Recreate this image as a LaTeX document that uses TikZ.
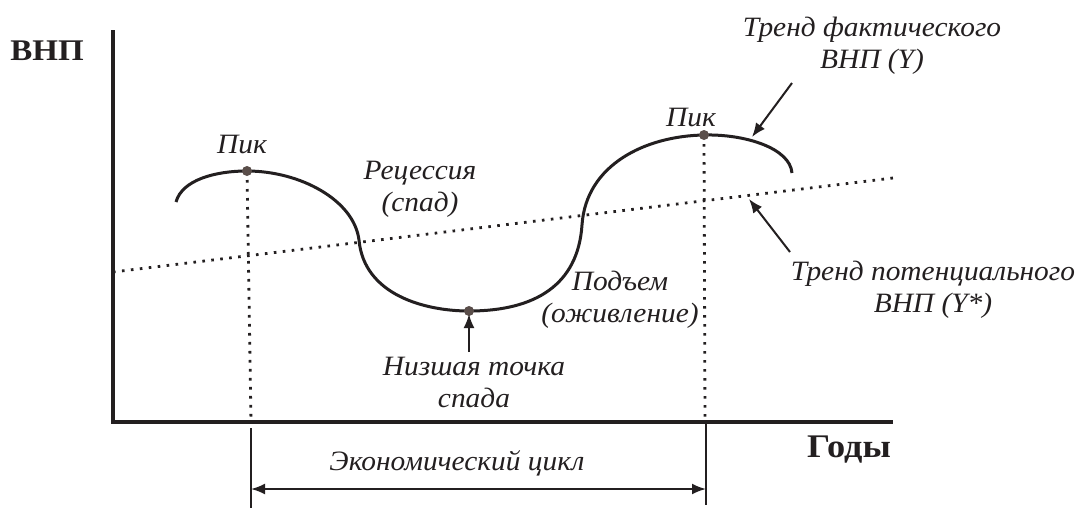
\documentclass[tikz,border=0pt]{standalone}
\usepackage{fontspec}
\setmainfont{Liberation Serif}
\newfontfamily\lblfont[FakeStretch=1.05]{Liberation Serif}
\newfontfamily\boldfont[FakeStretch=1.1]{Liberation Serif}
\usetikzlibrary{arrows.meta}
\definecolor{ink}{HTML}{231F20}
\definecolor{dotc}{HTML}{5A4E4A}
\tikzset{
  curve/.style={line width=1.5pt, draw=ink},
  axis/.style={line width=1.6pt, draw=ink},
  dotline/.style={line width=1.4pt, draw=ink, dash pattern=on 1.3pt off 3.2pt},
  thinline/.style={line width=0.9pt, draw=ink},
  arr/.style={line width=1pt, draw=ink, -{Latex[length=7pt,width=5.5pt]}},
  darr/.style={line width=1pt, draw=ink, {Latex[length=7pt,width=5.5pt]}-{Latex[length=7pt,width=5.5pt]}},
  lbl/.style={font=\lblfont\itshape\fontsize{14}{16}\selectfont, text=ink, align=center, inner sep=0pt},
  bigbold/.style={font=\boldfont\bfseries\fontsize{15}{18}\selectfont, text=ink, inner sep=0pt},
  pt/.style={circle, fill=dotc, inner sep=0pt, minimum size=5pt}
}
\begin{document}
\begin{tikzpicture}[x=0.5pt, y=-0.5pt]
\path[use as bounding box, fill=white] (0,0) rectangle (1084,521);

% axes
\coordinate (Ytop) at (113,30);
\coordinate (O) at (113,422);
\coordinate (Xend) at (893,422);
\draw[axis] (Ytop) -- (O) -- (Xend);

% potential trend
\coordinate (T1) at (113,272);
\coordinate (T2) at (893,178);
\draw[dotline] (T1) -- (T2);

% actual GNP curve
\coordinate (C0) at (176,202);
\coordinate (P1) at (247,171);
\coordinate (C1) at (359,240);
\coordinate (Tr) at (469,311);
\coordinate (C2) at (582,225);
\coordinate (P2) at (704,135);
\coordinate (C3) at (792,173);
\draw[curve] (C0) .. controls (182,180) and (215,171) .. (P1)
  .. controls (300,171) and (354,200) .. (C1)
  .. controls (364,295) and (425,311) .. (Tr)
  .. controls (535,311) and (578,285) .. (C2)
  .. controls (586,165) and (645,136) .. (P2)
  .. controls (745,134) and (790,148) .. (C3);

% vertical dotted lines
\coordinate (P1b) at (251,422);
\coordinate (P2b) at (705,422);
\draw[dotline] (P1) -- (P1b);
\draw[dotline] (P2) -- (P2b);

% points
\node[pt] (dot1) at (P1) {};
\node[pt] (dot2) at (P2) {};
\node[pt] (dot3) at (Tr) {};

% cycle ticks and arrow
\coordinate (L1) at (251,428);
\coordinate (L2) at (251,508);
\coordinate (R1) at (706,422);
\coordinate (R2) at (706,505);
\draw[thinline] (L1) -- (L2);
\draw[thinline] (R1) -- (R2);
\coordinate (A1) at (251,489);
\coordinate (A2) at (706,489);
\draw[darr] (A1) -- (A2);

% labels
\node[bigbold] (vnp) at (47,51) {ВНП};
\node[bigbold, font=\boldfont\bfseries\fontsize{16.5}{18}\selectfont] (gody) at (849,450) {Годы};
\node[lbl] (pik1) at (242,144) {Пик};
\node[lbl] (rec) at (420,189) {Рецессия\\(спад)};
\node[lbl] (pik2) at (691,117) {Пик};
\node[lbl] (fact) at (872,46) {Тренд фактического\\ВНП (Y)};
\node[lbl] (pot) at (933,290) {Тренд потенциального\\ВНП (Y*)};
\node[lbl] (pod) at (620,300) {Подъем\\(оживление)};
\node[lbl] (low) at (474,382) {Низшая точка\\спада};
\node[lbl] (cyc) at (457,463) {Экономический цикл};

% pointer arrows
\coordinate (fa) at (792,83);
\coordinate (fb) at (752,137);
\draw[arr] (fa) -- (fb);
\coordinate (pa) at (790,252);
\coordinate (pb) at (749,199);
\draw[arr] (pa) -- (pb);
\coordinate (ta) at (469,352);
\coordinate (tb) at (469,314);
\draw[arr] (ta) -- (tb);
\end{tikzpicture}
\end{document}
